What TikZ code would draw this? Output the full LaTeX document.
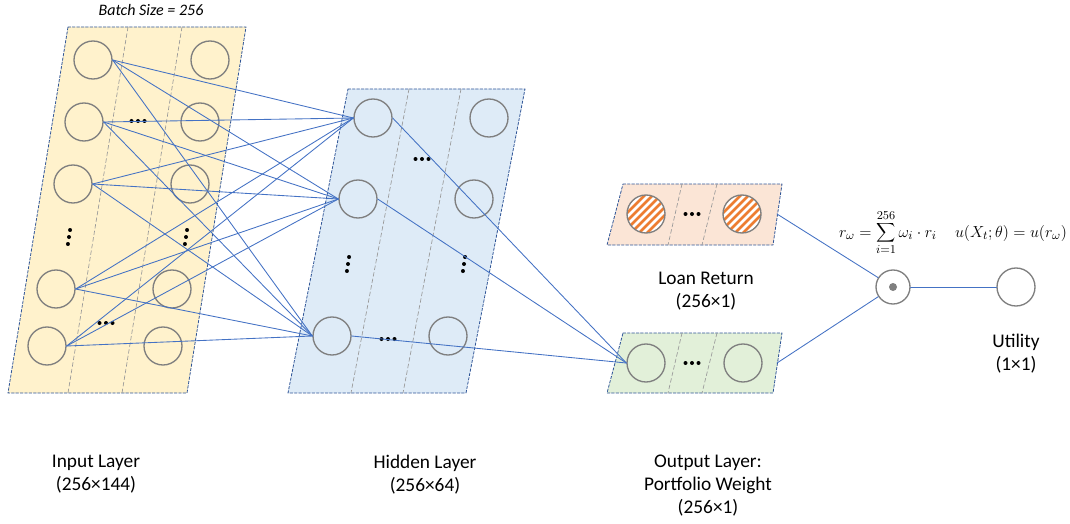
\documentclass[tikz,border=0pt]{standalone}
\usepackage{fontspec}
\setmainfont{Carlito}
\definecolor{frameblue}{HTML}{2F5597}
\definecolor{linkblue}{HTML}{4472C4}
\definecolor{inputfill}{HTML}{FFF2CC}
\definecolor{hiddenfill}{HTML}{DEEBF7}
\definecolor{returnfill}{HTML}{FBE5D6}
\definecolor{outputfill}{HTML}{E2F0D9}
\definecolor{ringgray}{HTML}{7F7F7F}
\definecolor{stripeorange}{HTML}{ED7D31}

\begin{document}
\begin{tikzpicture}[x=0.75pt,y=-0.75pt,line cap=round,line join=round,
    neuron/.style={circle,draw=ringgray,line width=1pt,minimum size=28.5pt,inner sep=0pt},
    link/.style={linkblue,line width=0.65pt},
    layerbox/.style={draw=frameblue,dash pattern=on 2pt off 1.3pt,line width=0.6pt},
    divider/.style={draw=gray!80,dash pattern=on 3pt off 2pt,line width=0.5pt},
    layername/.style={font=\fontsize{14.5}{17}\selectfont,align=center,inner sep=0pt},
    hatched/.style={fill=white,path picture={
        \foreach \k in {-28,-20,...,28}
          \draw[stripeorange,line width=2pt,line cap=butt,shift={(path picture bounding box.center)}]
            (\k-25,25) -- (\k+25,-25);}}]
  \useasboundingbox (0,0) rectangle (1070,524);

  % layer boxes
  \draw[layerbox,fill=inputfill] (68,27) -- (246,27) -- (187,393) -- (8,393) -- cycle;
  \draw[divider] (128,27) -- (68,393) (182,27) -- (122,393);
  \draw[layerbox,fill=hiddenfill] (348,89) -- (525,89) -- (466,393) -- (288,393) -- cycle;
  \draw[divider] (409,89) -- (351,393) (461,89) -- (403,393);
  \draw[layerbox,fill=returnfill] (623,184) -- (782,184) -- (773,245) -- (607,245) -- cycle;
  \draw[divider] (682,184) -- (668,245) (717,184) -- (702,245);
  \draw[layerbox,fill=outputfill] (623,333) -- (782,333) -- (773,393) -- (607,393) -- cycle;
  \draw[divider] (682,333) -- (668,393) (717,333) -- (702,393);

  % neurons
  \foreach \n/\x/\y in {1/93/60,2/84/122,3/73/184,4/56/289,5/47/346}
    \node[neuron] (in\n) at (\x,\y) {};
  \foreach \n/\x/\y in {1/210/60,2/200/122,3/190/184,4/172/289,5/163/346}
    \node[neuron] (inr\n) at (\x,\y) {};
  \foreach \n/\x/\y in {1/373/118,2/358/199,3/332/336}
    \node[neuron] (hid\n) at (\x,\y) {};
  \foreach \n/\x/\y in {1/489/118,2/474/199,3/448/336}
    \node[neuron] (hidr\n) at (\x,\y) {};
  \node[neuron,hatched] (ret1) at (646,214) {};
  \node[neuron,hatched] (ret2) at (742,214) {};
  \node[neuron] (out1) at (646,363) {};
  \node[neuron] (out2) at (743,363) {};
  \node[neuron,fill=white,minimum size=25.5pt] (prod) at (893,287) {};
  \fill[ringgray] (prod.center) circle (3pt);
  \node[neuron] (util) at (1016,287) {};

  % dots
  \foreach \p in {(138,121),(106,323),(422,159),(388,339)}
    \foreach \d in {-6.5,0,6.5}
      \fill[shift={\p}] (\d,0) circle (1.5pt);
  \foreach \p in {(692,214),(692,363)}
    \foreach \d in {-6.5,0,6.5}
      \fill[shift={\p}] (\d,0) circle (1.5pt);
  \foreach \p in {(69,237),(186,237),(348,264),(464,264)}
    \foreach \d in {-7,0,7}
      \fill[shift={\p}] (-0.15*\d,\d) circle (1.5pt);

  % connections
  \foreach \i in {1,...,5}
    \foreach \j in {1,2,3}
      \draw[link] (in\i.east) -- (hid\j.west);
  \foreach \j in {1,2,3}
    \draw[link] (hid\j.east) -- (out1.west);
  \coordinate (retR) at (777,214);
  \coordinate (outR) at (777,363);
  \draw[link] (retR) -- (prod);
  \draw[link] (outR) -- (prod);
  \draw[link] (prod) -- (util);

  % texts
  \node[font=\itshape\fontsize{12}{14}\selectfont] (batch) at (151,10) {Batch Size = 256};
  \node[font=\fontsize{12.3}{14}\selectfont,anchor=base] (sumtext) at (888,237)
    {$r_\omega = \displaystyle\sum_{i=1}^{256} \omega_i \cdot r_i$};
  \node[font=\fontsize{12.3}{14}\selectfont,anchor=base] (utiltext) at (1011,237)
    {$u(X_t;\theta) = u(r_\omega)$};
  \node[layername,anchor=north] (retname) at (706,272) {Loan Return\\(256×1)};
  \node[layername,anchor=north] (utilname) at (1016,334) {Utility\\(1×1)};
  \node[layername,anchor=north] (inname) at (96,455) {Input Layer\\(256×144)};
  \node[layername,anchor=north] (hidname) at (425,455) {Hidden Layer\\(256×64)};
  \node[layername,anchor=north] (outname) at (708,455) {Output Layer:\\Portfolio Weight\\(256×1)};
\end{tikzpicture}
\end{document}
